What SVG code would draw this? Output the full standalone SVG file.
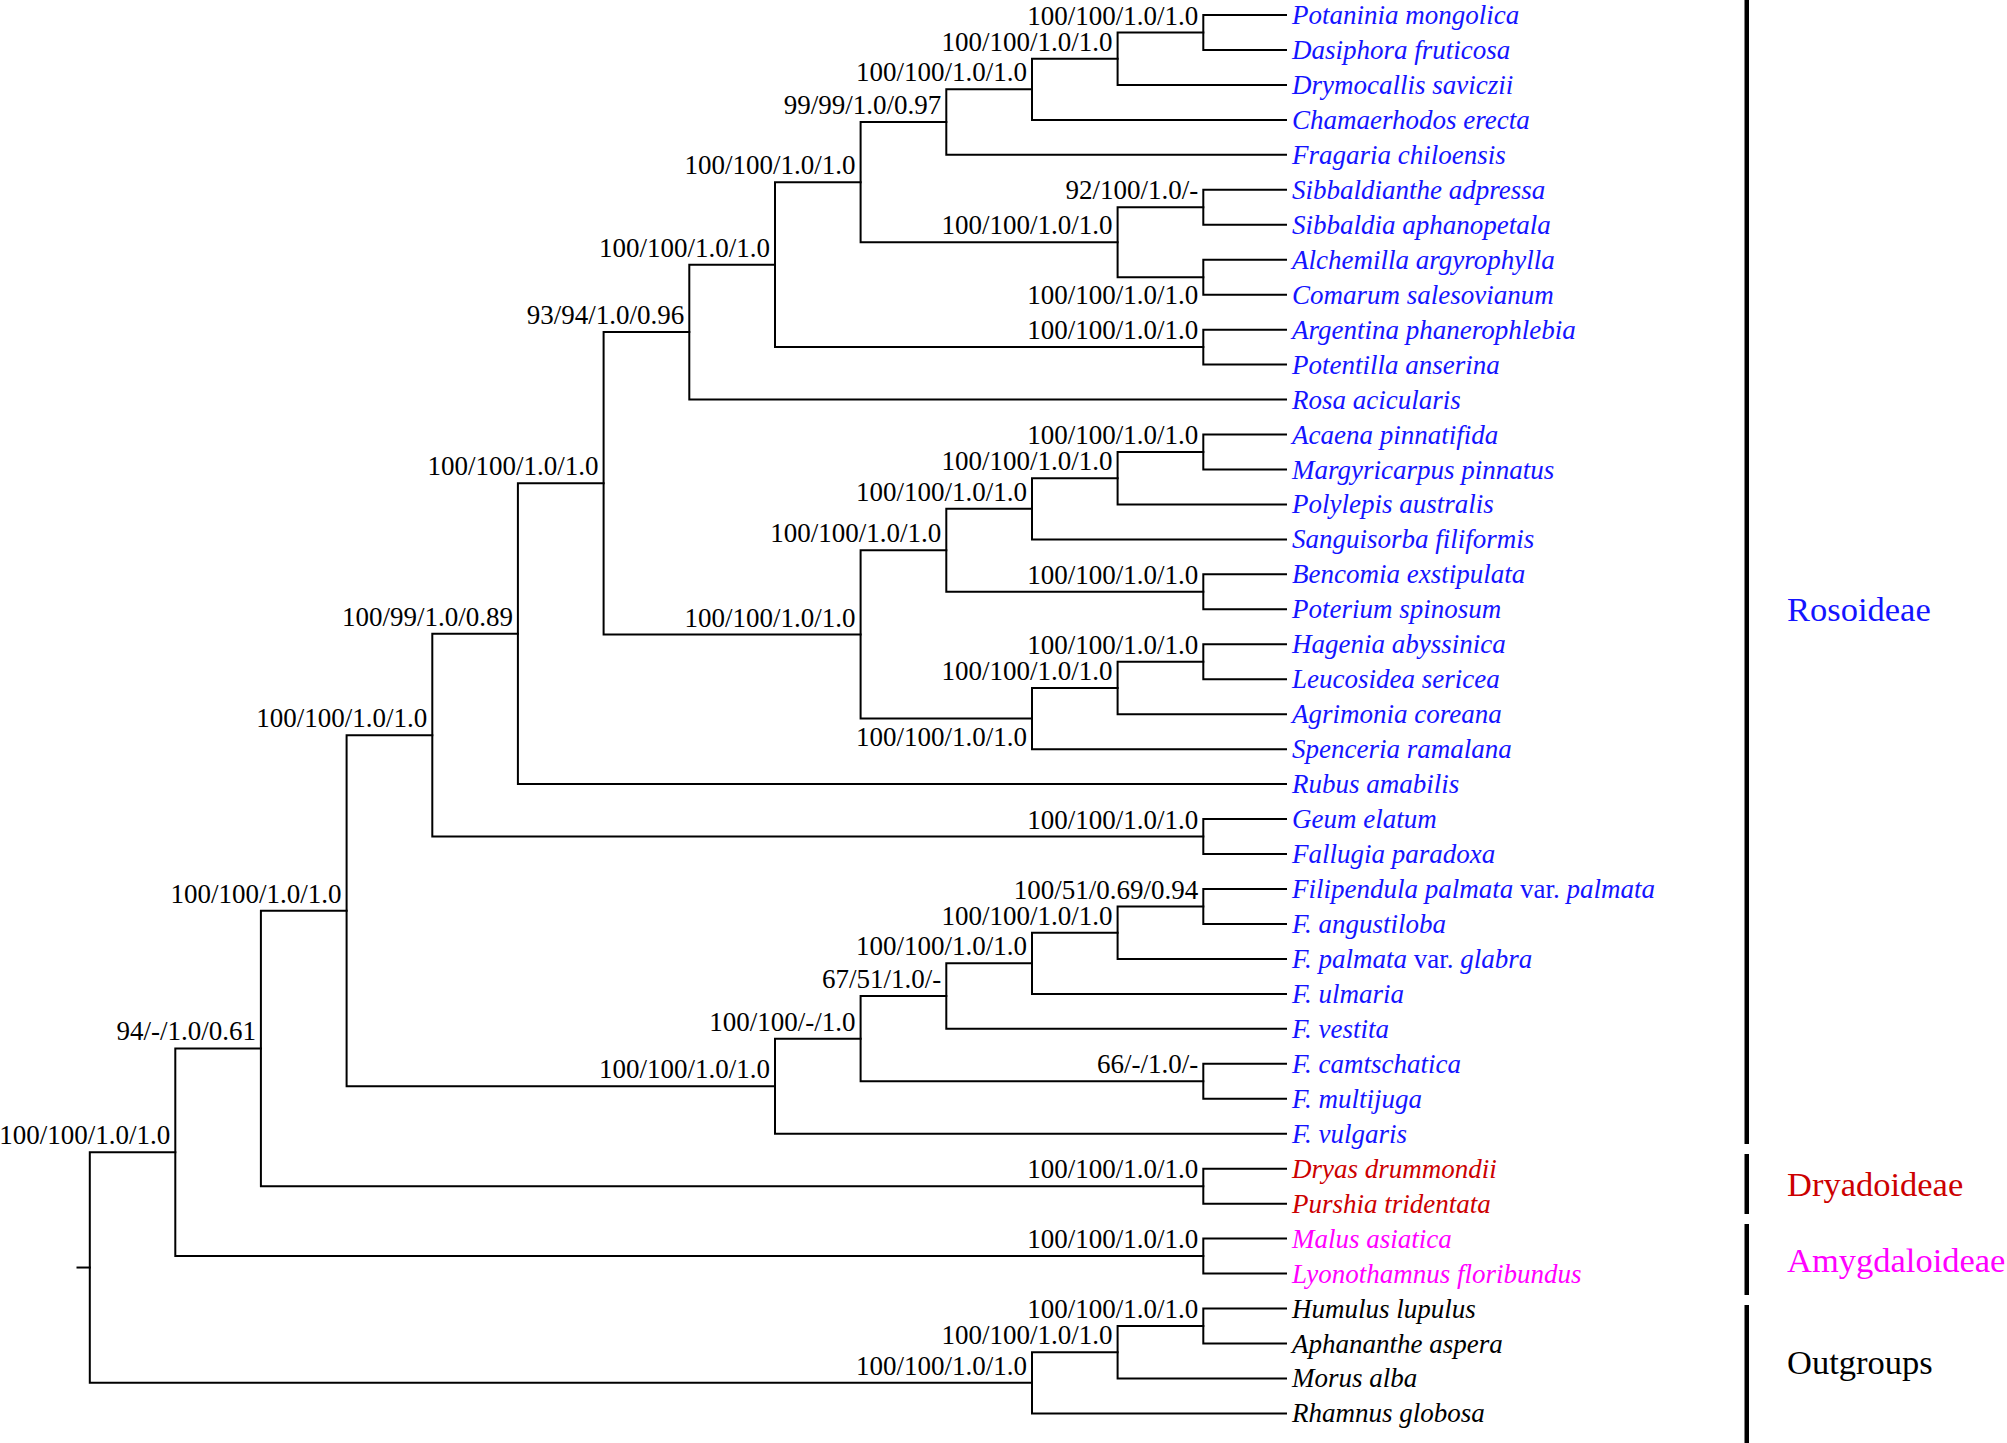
<svg xmlns="http://www.w3.org/2000/svg" width="2007" height="1443" viewBox="0 0 2007 1443">
<style>
.br{fill:none;stroke:#000;stroke-width:2;stroke-linecap:square}
.sl{font-family:"Liberation Serif","Times New Roman",serif;font-size:27px;fill:#000;text-anchor:end}
.tx{font-family:"Liberation Serif","Times New Roman",serif;font-size:27px;font-style:italic}
.tx tspan.r{font-style:normal}
.b{fill:#1414ff}
.rd{fill:#cc0000}
.mg{fill:#ff00ff}
.k{fill:#000}
.grp{font-family:"Liberation Serif","Times New Roman",serif;font-size:34.5px}
.bar{fill:#000}
</style>
<rect width="2007" height="1443" fill="#fff"/>
<g id="connectors" class="br">
<path d="M1286 15H1203.3V49.96H1286"/>
<path d="M1203.3 32.48H1117.6V84.92H1286"/>
<path d="M1117.6 58.7H1032V119.88H1286"/>
<path d="M1032 89.29H946.3V154.84H1286"/>
<path d="M1286 189.8H1203.3V224.76H1286"/>
<path d="M1286 259.72H1203.3V294.68H1286"/>
<path d="M1203.3 207.28H1117.6V277.2H1203.3"/>
<path d="M946.3 122.07H860.6V242.24H1117.6"/>
<path d="M1286 329.64H1203.3V364.6H1286"/>
<path d="M860.6 182.16H775V347.12H1203.3"/>
<path d="M775 264.64H689.3V399.56H1286"/>
<path d="M1286 434.52H1203.3V469.48H1286"/>
<path d="M1203.3 451.99H1117.6V504.44H1286"/>
<path d="M1117.6 478.22H1032V539.4H1286"/>
<path d="M1286 574.36H1203.3V609.32H1286"/>
<path d="M1032 508.81H946.3V591.84H1203.3"/>
<path d="M1286 644.28H1203.3V679.24H1286"/>
<path d="M1203.3 661.76H1117.6V714.2H1286"/>
<path d="M1117.6 687.98H1032V749.16H1286"/>
<path d="M946.3 550.33H860.6V718.57H1032"/>
<path d="M689.3 332.1H603.6V634.45H860.6"/>
<path d="M603.6 483.28H517.9V784.12H1286"/>
<path d="M1286 819.08H1203.3V854.04H1286"/>
<path d="M517.9 633.7H432.3V836.56H1203.3"/>
<path d="M1286 889H1203.3V923.96H1286"/>
<path d="M1203.3 906.48H1117.6V958.92H1286"/>
<path d="M1117.6 932.7H1032V993.88H1286"/>
<path d="M1032 963.29H946.3V1028.84H1286"/>
<path d="M1286 1063.8H1203.3V1098.76H1286"/>
<path d="M946.3 996.07H860.6V1081.28H1203.3"/>
<path d="M860.6 1038.67H775V1133.72H1286"/>
<path d="M432.3 735.13H346.6V1086.2H775"/>
<path d="M1286 1168.68H1203.3V1203.64H1286"/>
<path d="M346.6 910.66H260.9V1186.16H1203.3"/>
<path d="M1286 1238.6H1203.3V1273.56H1286"/>
<path d="M260.9 1048.41H175.3V1256.08H1203.3"/>
<path d="M1286 1308.52H1203.3V1343.48H1286"/>
<path d="M1203.3 1326H1117.6V1378.44H1286"/>
<path d="M1117.6 1352.22H1032V1413.4H1286"/>
<path d="M175.3 1152.25H89.8V1382.81H1032"/>
<path d="M77.5 1267.53H89.8"/>
</g>
<g id="support">
<g id="s-A"><text class="sl" x="1198.3" y="24.5">100/100/1.0/1.0</text></g>
<g id="s-B"><text class="sl" x="1112.6" y="50.7">100/100/1.0/1.0</text></g>
<g id="s-C"><text class="sl" x="1027" y="81.3">100/100/1.0/1.0</text></g>
<g id="s-D"><text class="sl" x="941.3" y="114.1">99/99/1.0/0.97</text></g>
<g id="s-E"><text class="sl" x="1198.3" y="199.3">92/100/1.0/-</text></g>
<g id="s-G"><text class="sl" x="1112.6" y="234.2">100/100/1.0/1.0</text></g>
<g id="s-F"><text class="sl" x="1198.3" y="304.2">100/100/1.0/1.0</text></g>
<g id="s-H"><text class="sl" x="855.6" y="174.2">100/100/1.0/1.0</text></g>
<g id="s-I"><text class="sl" x="1198.3" y="339.1">100/100/1.0/1.0</text></g>
<g id="s-J"><text class="sl" x="770" y="256.6">100/100/1.0/1.0</text></g>
<g id="s-K"><text class="sl" x="684.3" y="324.1">93/94/1.0/0.96</text></g>
<g id="s-L"><text class="sl" x="1198.3" y="444">100/100/1.0/1.0</text></g>
<g id="s-M"><text class="sl" x="1112.6" y="470.2">100/100/1.0/1.0</text></g>
<g id="s-N"><text class="sl" x="1027" y="500.8">100/100/1.0/1.0</text></g>
<g id="s-O"><text class="sl" x="1198.3" y="583.8">100/100/1.0/1.0</text></g>
<g id="s-P"><text class="sl" x="941.3" y="542.3">100/100/1.0/1.0</text></g>
<g id="s-Q"><text class="sl" x="1198.3" y="653.8">100/100/1.0/1.0</text></g>
<g id="s-R"><text class="sl" x="1112.6" y="680">100/100/1.0/1.0</text></g>
<g id="s-S"><text class="sl" x="1027" y="745.6">100/100/1.0/1.0</text></g>
<g id="s-T"><text class="sl" x="855.6" y="626.5">100/100/1.0/1.0</text></g>
<g id="s-U"><text class="sl" x="598.6" y="475.3">100/100/1.0/1.0</text></g>
<g id="s-V"><text class="sl" x="512.9" y="625.7">100/99/1.0/0.89</text></g>
<g id="s-W"><text class="sl" x="1198.3" y="828.6">100/100/1.0/1.0</text></g>
<g id="s-X"><text class="sl" x="427.3" y="727.1">100/100/1.0/1.0</text></g>
<g id="s-F1"><text class="sl" x="1198.3" y="898.5">100/51/0.69/0.94</text></g>
<g id="s-F2"><text class="sl" x="1112.6" y="924.7">100/100/1.0/1.0</text></g>
<g id="s-F3"><text class="sl" x="1027" y="955.3">100/100/1.0/1.0</text></g>
<g id="s-F4"><text class="sl" x="941.3" y="988.1">67/51/1.0/-</text></g>
<g id="s-F5"><text class="sl" x="1198.3" y="1073.3">66/-/1.0/-</text></g>
<g id="s-F6"><text class="sl" x="855.6" y="1030.7">100/100/-/1.0</text></g>
<g id="s-F7"><text class="sl" x="770" y="1078.2">100/100/1.0/1.0</text></g>
<g id="s-Y3"><text class="sl" x="341.6" y="902.7">100/100/1.0/1.0</text></g>
<g id="s-Dry"><text class="sl" x="1198.3" y="1178.2">100/100/1.0/1.0</text></g>
<g id="s-Y2"><text class="sl" x="255.9" y="1040.4">94/-/1.0/0.61</text></g>
<g id="s-Amy"><text class="sl" x="1198.3" y="1248.1">100/100/1.0/1.0</text></g>
<g id="s-Y1"><text class="sl" x="170.3" y="1144.3">100/100/1.0/1.0</text></g>
<g id="s-O1"><text class="sl" x="1198.3" y="1318">100/100/1.0/1.0</text></g>
<g id="s-O2"><text class="sl" x="1112.6" y="1344.2">100/100/1.0/1.0</text></g>
<g id="s-O3"><text class="sl" x="1027" y="1374.8">100/100/1.0/1.0</text></g>
</g>
<g id="taxa">
<g id="t00"><text class="tx b" x="1292" y="24">Potaninia mongolica</text></g>
<g id="t01"><text class="tx b" x="1292" y="59">Dasiphora fruticosa</text></g>
<g id="t02"><text class="tx b" x="1292" y="93.9">Drymocallis saviczii</text></g>
<g id="t03"><text class="tx b" x="1292" y="128.9">Chamaerhodos erecta</text></g>
<g id="t04"><text class="tx b" x="1292" y="163.8">Fragaria chiloensis</text></g>
<g id="t05"><text class="tx b" x="1292" y="198.8">Sibbaldianthe adpressa</text></g>
<g id="t06"><text class="tx b" x="1292" y="233.8">Sibbaldia aphanopetala</text></g>
<g id="t07"><text class="tx b" x="1292" y="268.7">Alchemilla argyrophylla</text></g>
<g id="t08"><text class="tx b" x="1292" y="303.7">Comarum salesovianum</text></g>
<g id="t09"><text class="tx b" x="1292" y="338.6">Argentina phanerophlebia</text></g>
<g id="t10"><text class="tx b" x="1292" y="373.6">Potentilla anserina</text></g>
<g id="t11"><text class="tx b" x="1292" y="408.6">Rosa acicularis</text></g>
<g id="t12"><text class="tx b" x="1292" y="443.5">Acaena pinnatifida</text></g>
<g id="t13"><text class="tx b" x="1292" y="478.5">Margyricarpus pinnatus</text></g>
<g id="t14"><text class="tx b" x="1292" y="513.4">Polylepis australis</text></g>
<g id="t15"><text class="tx b" x="1292" y="548.4">Sanguisorba filiformis</text></g>
<g id="t16"><text class="tx b" x="1292" y="583.4">Bencomia exstipulata</text></g>
<g id="t17"><text class="tx b" x="1292" y="618.3">Poterium spinosum</text></g>
<g id="t18"><text class="tx b" x="1292" y="653.3">Hagenia abyssinica</text></g>
<g id="t19"><text class="tx b" x="1292" y="688.2">Leucosidea sericea</text></g>
<g id="t20"><text class="tx b" x="1292" y="723.2">Agrimonia coreana</text></g>
<g id="t21"><text class="tx b" x="1292" y="758.2">Spenceria ramalana</text></g>
<g id="t22"><text class="tx b" x="1292" y="793.1">Rubus amabilis</text></g>
<g id="t23"><text class="tx b" x="1292" y="828.1">Geum elatum</text></g>
<g id="t24"><text class="tx b" x="1292" y="863">Fallugia paradoxa</text></g>
<g id="t25"><text class="tx b" x="1292" y="898">Filipendula palmata <tspan class="r">var.</tspan> palmata</text></g>
<g id="t26"><text class="tx b" x="1292" y="933">F. angustiloba</text></g>
<g id="t27"><text class="tx b" x="1292" y="967.9">F. palmata <tspan class="r">var.</tspan> glabra</text></g>
<g id="t28"><text class="tx b" x="1292" y="1002.9">F. ulmaria</text></g>
<g id="t29"><text class="tx b" x="1292" y="1037.8">F. vestita</text></g>
<g id="t30"><text class="tx b" x="1292" y="1072.8">F. camtschatica</text></g>
<g id="t31"><text class="tx b" x="1292" y="1107.8">F. multijuga</text></g>
<g id="t32"><text class="tx b" x="1292" y="1142.7">F. vulgaris</text></g>
<g id="t33"><text class="tx rd" x="1292" y="1177.7">Dryas drummondii</text></g>
<g id="t34"><text class="tx rd" x="1292" y="1212.6">Purshia tridentata</text></g>
<g id="t35"><text class="tx mg" x="1292" y="1247.6">Malus asiatica</text></g>
<g id="t36"><text class="tx mg" x="1292" y="1282.6">Lyonothamnus floribundus</text></g>
<g id="t37"><text class="tx k" x="1292" y="1317.5">Humulus lupulus</text></g>
<g id="t38"><text class="tx k" x="1292" y="1352.5">Aphananthe aspera</text></g>
<g id="t39"><text class="tx k" x="1292" y="1387.4">Morus alba</text></g>
<g id="t40"><text class="tx k" x="1292" y="1422.4">Rhamnus globosa</text></g>
</g>
<g id="clade-rosoideae"><rect class="bar" x="1744.5" y="0" width="4.5" height="1144"/><text class="grp b" x="1787" y="621">Rosoideae</text></g>
<g id="clade-dryadoideae"><rect class="bar" x="1744.5" y="1154" width="4.5" height="60"/><text class="grp rd" x="1787" y="1196">Dryadoideae</text></g>
<g id="clade-amygdaloideae"><rect class="bar" x="1744.5" y="1224" width="4.5" height="71"/><text class="grp mg" x="1787" y="1272">Amygdaloideae</text></g>
<g id="clade-outgroups"><rect class="bar" x="1744.5" y="1305" width="4.5" height="138"/><text class="grp k" x="1787" y="1374">Outgroups</text></g>
</svg>
